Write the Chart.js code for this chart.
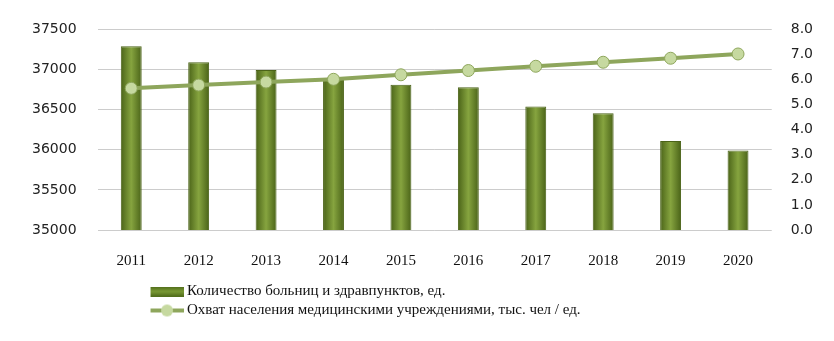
<!DOCTYPE html>
<html>
<head>
<meta charset="utf-8">
<script src="https://cdn.jsdelivr.net/npm/chart.js@4"></script>
<style>
  html, body { margin: 0; padding: 0; background: #fff; }
  #wrap { width: 834px; height: 341px; }
</style>
</head>
<body>
<div id="wrap"><canvas id="myChart" width="834" height="341"></canvas></div>
<script>
// data
const years = ['2011', '2012', '2013', '2014', '2015', '2016', '2017', '2018', '2019', '2020'];
const hospitals = [37290, 37090, 36995, 36870, 36810, 36780, 36540, 36455, 36110, 35990];
const coverage = [5.65, 5.78, 5.90, 6.01, 6.19, 6.36, 6.53, 6.69, 6.85, 7.02];
const leftTicks = [35000, 35500, 36000, 36500, 37000, 37500];
const rightTicks = [0, 1, 2, 3, 4, 5, 6, 7, 8];

const barLabel = 'Количество больниц и здравпунктов, ед.';
const lineLabel = 'Охват населения медицинскими учреждениями, тыс. чел / ед.';

const barColor = '#6f8f2c';
const barEdge = '#4b6318';
const lineColor = '#8ea65c';
const dotColor = '#c6d9a0';
const barShare = 0.62 * 0.5;

// dark edges, lighter middle, like the original bars
function barFill(c) {
    const chart = c.chart;
    if (!chart.chartArea || c.dataIndex === undefined) return barColor;
    const xs = chart.scales.x;
    const cx = xs.getPixelForValue(c.dataIndex);
    const half = xs.width / years.length * barShare / 2;
    const gr = chart.ctx.createLinearGradient(cx - half, 0, cx + half, 0);
    gr.addColorStop(0, '#4a6318');
    gr.addColorStop(0.5, '#86a43f');
    gr.addColorStop(1, '#4a6318');
    return gr;
}

// legend swatches
function swatchBar() {
    const c = document.createElement('canvas');
    c.width = 34; c.height = 10;
    const g = c.getContext('2d');
    const gr = g.createLinearGradient(0, 0, 0, 10);
    gr.addColorStop(0, '#4f6b1a');
    gr.addColorStop(0.5, '#7a9a35');
    gr.addColorStop(1, '#4f6b1a');
    g.fillStyle = gr;
    g.fillRect(0, 0, 34, 10);
    return c;
}
function swatchLine() {
    const c = document.createElement('canvas');
    c.width = 34; c.height = 14;
    const g = c.getContext('2d');
    g.strokeStyle = lineColor;
    g.lineWidth = 4;
    g.beginPath(); g.moveTo(0, 7); g.lineTo(34, 7); g.stroke();
    g.fillStyle = dotColor;
    g.beginPath(); g.arc(17, 7, 6, 0, Math.PI * 2); g.fill();
    return c;
}
// dataset 0 is the line, dataset 1 the bars
const swatches = [swatchLine(), swatchBar()];

// shift the legend to where it sits in the picture
const legendShift = {
    id: 'legendShift',
    afterLayout(chart) {
        chart.legend.left += 53;
        chart.legend.right += 53;
    }
};

const ctx = document.getElementById('myChart').getContext('2d');
const chart = new Chart(ctx, {
    data: {
        labels: years,
        datasets: [{
            type: 'line',
            label: lineLabel,
            data: coverage,
            yAxisID: 'y1',
            borderColor: lineColor,
            borderWidth: 4,
            pointRadius: 6,
            pointBackgroundColor: dotColor,
            pointBorderColor: lineColor,
            pointBorderWidth: 1,
            tension: 0,
            order: 0
        }, {
            type: 'bar',
            label: barLabel,
            data: hospitals,
            yAxisID: 'y',
            backgroundColor: barFill,
            borderColor: barEdge,
            borderWidth: 1,
            barPercentage: 0.62,
            categoryPercentage: 0.5,
            order: 1
        }]
    },
    options: {
        responsive: false,
        animation: false,
        layout: { autoPadding: false, padding: { left: 11, right: 2, top: 27, bottom: 13 } },
        scales: {
            x: {
                grid: { display: false, drawTicks: false },
                border: { display: false },
                ticks: {
                    color: '#111',
                    padding: 22,
                    font: { family: '"Liberation Serif", serif', size: 15 }
                },
                afterFit(s) { s.height -= 12; }
            },
            y: {
                position: 'left',
                min: 35000,
                max: 37500,
                afterBuildTicks(s) { s.ticks = leftTicks.map(v => ({ value: v })); },
                grid: { color: '#cccccc', lineWidth: 1, drawTicks: false },
                border: { display: false },
                ticks: {
                    color: '#222',
                    padding: 21,
                    font: { family: '"DejaVu Sans", sans-serif', size: 14 },
                    callback: v => String(v)
                }
            },
            y1: {
                position: 'right',
                min: 0,
                max: 8,
                afterBuildTicks(s) { s.ticks = rightTicks.map(v => ({ value: v })); },
                grid: { display: false, drawTicks: false },
                border: { display: false },
                ticks: {
                    color: '#222',
                    padding: 19,
                    font: { family: '"DejaVu Sans", sans-serif', size: 14 },
                    callback: v => v.toFixed(1)
                }
            }
        },
        plugins: {
            legend: {
                position: 'bottom',
                align: 'start',
                fullSize: false,
                reverse: true,
                labels: {
                    usePointStyle: true,
                    pointStyleWidth: 25,
                    boxHeight: 14,
                    padding: 4,
                    color: '#111',
                    font: { family: '"Liberation Serif", serif', size: 15 },
                    generateLabels(chart) {
                        const items = Chart.defaults.plugins.legend.labels.generateLabels(chart);
                        items.forEach(it => { it.pointStyle = swatches[it.datasetIndex]; });
                        return items;
                    }
                }
            },
            tooltip: { enabled: false }
        }
    },
    plugins: [legendShift]
});
</script>
</body>
</html>
